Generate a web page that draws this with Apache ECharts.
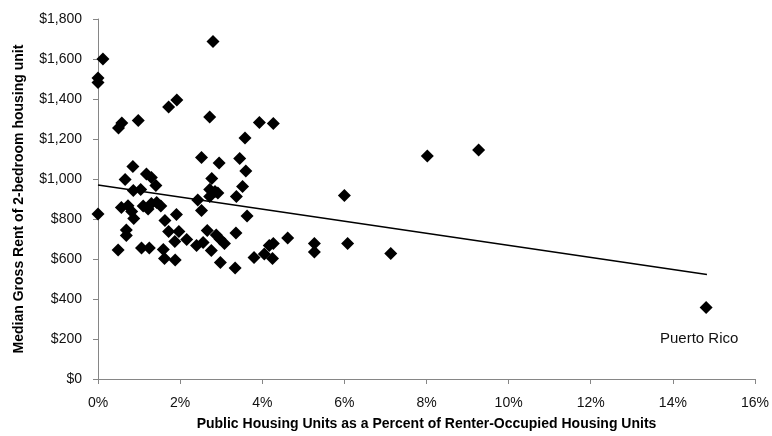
<!DOCTYPE html>
<html>
<head>
<meta charset="utf-8">
<script src="https://cdn.jsdelivr.net/npm/echarts@6/dist/echarts.min.js"></script>
<style>
html,body{margin:0;padding:0;background:#fff;}
#chart{width:772px;height:436px;}
</style>
</head>
<body>
<div id="chart"></div>
<script>
// Public housing share (%) of renter-occupied units
var shareX = [0.0,0.0,0.12,0.0,0.5,0.58,0.98,1.72,1.92,2.72,2.8,3.93,4.27,3.58,0.85,0.66,1.18,1.3,1.41,0.86,1.04,2.52,2.95,3.45,3.6,2.77,3.52,2.72,2.85,2.92,2.43,2.72,3.37,2.52,3.63,0.57,0.73,0.82,0.87,1.1,1.22,1.3,1.43,1.53,1.63,1.91,0.69,0.69,0.49,1.06,1.25,1.59,1.72,1.97,1.87,2.16,2.4,1.62,1.88,2.66,2.88,2.97,3.08,2.56,2.76,3.36,2.98,3.34,3.8,4.05,4.17,4.27,4.25,4.62,5.27,5.27,6.0,6.08,7.13,8.02,9.27,14.81];
// Median gross rent of 2-bedroom unit ($)
var rentY = [1505,1482,1600,825,1255,1280,1292,1360,1395,1310,1688,1283,1278,1205,1063,998,1025,1008,968,942,948,1108,1080,1103,1040,1003,963,948,938,930,895,912,912,842,815,857,866,837,803,865,850,878,882,865,792,823,745,718,645,655,655,648,738,738,688,697,667,603,595,742,720,700,678,682,642,730,582,555,607,625,668,678,603,705,678,635,918,678,628,1115,1145,358];
var pointNames = [];
for (var i = 0; i < shareX.length; i++) pointNames.push('');
pointNames[shareX.length - 1] = 'Puerto Rico';
// Linear trendline endpoints
var trendX = [0, 14.83];
var trendY = [970, 523];
// Axis tick settings
var xTicks = {min: 0, max: 16, interval: 2};
var yTicks = {min: 0, max: 1800, interval: 200};

var scatterData = shareX.map(function (x, i) {
  return {value: [x, rentY[i]], name: pointNames[i]};
});
var trendData = trendX.map(function (x, i) { return [x, trendY[i]]; });

var font = "'Liberation Sans', Arial, sans-serif";
var chart = echarts.init(document.getElementById('chart'));
chart.setOption({
  animation: false,
  grid: {left: 98, right: 15, top: 19, bottom: 56, containLabel: false},
  xAxis: {
    type: 'value',
    min: xTicks.min, max: xTicks.max, interval: xTicks.interval,
    name: 'Public Housing Units as a Percent of Renter-Occupied Housing Units',
    nameLocation: 'middle', nameGap: 38,
    nameTextStyle: {fontFamily: font, fontWeight: 'bold', fontSize: 14, color: '#000'},
    axisLine: {show: true, lineStyle: {color: '#868686', width: 1}},
    axisTick: {show: true, inside: false, length: 5, lineStyle: {color: '#868686'}},
    axisLabel: {margin: 17, fontFamily: font, fontSize: 14, color: '#111', formatter: function (v) { return v + '%'; }},
    splitLine: {show: false}
  },
  yAxis: {
    type: 'value',
    min: yTicks.min, max: yTicks.max, interval: yTicks.interval,
    name: 'Median Gross Rent of 2-bedroom housing unit',
    nameLocation: 'middle', nameGap: 72, nameRotate: 90,
    nameTextStyle: {fontFamily: font, fontWeight: 'bold', fontSize: 14, color: '#000'},
    axisLine: {show: true, lineStyle: {color: '#868686', width: 1}},
    axisTick: {show: true, inside: false, length: 5, lineStyle: {color: '#868686'}},
    axisLabel: {margin: 16, fontFamily: font, fontSize: 14, color: '#111', formatter: function (v) {
      return '$' + v.toString().replace(/\B(?=(\d{3})+(?!\d))/g, ',');
    }},
    splitLine: {show: false}
  },
  series: [
    {
      type: 'scatter',
      symbol: 'diamond',
      symbolSize: 13,
      itemStyle: {color: '#000', opacity: 1},
      emphasis: {disabled: true},
      data: scatterData,
      label: {
        show: true, position: 'bottom', distance: 17, offset: [-7, 0],
        fontFamily: font, fontSize: 15, color: '#111',
        formatter: function (p) { return p.name; }
      },
      z: 2
    },
    {
      type: 'line',
      data: trendData,
      symbol: 'none',
      lineStyle: {color: '#000', width: 1.5},
      z: 3
    }
  ]
});
</script>
</body>
</html>
